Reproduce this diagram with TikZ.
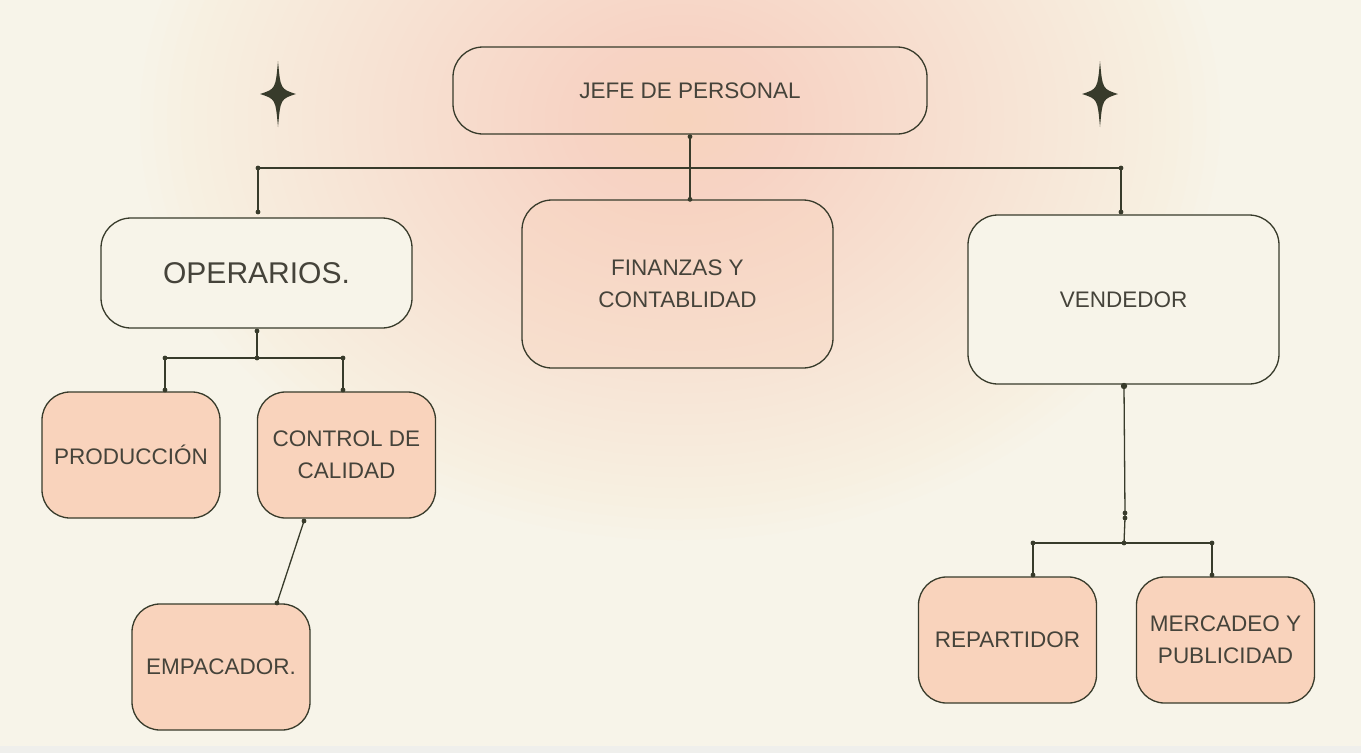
\documentclass[tikz,border=0pt]{standalone}
\usepackage{fontspec}
\setmainfont{Liberation Sans}
\definecolor{bg}{HTML}{F7F4E9}
\definecolor{glow}{HTML}{FAD3BD}
\definecolor{peach}{HTML}{F9D3BC}
\definecolor{ink}{HTML}{383B2B}
\definecolor{txt}{HTML}{45433A}
\definecolor{strip}{HTML}{EFEFEC}
\begin{document}
\begin{tikzpicture}[x=1pt,y=-1pt,
  box/.style={draw=ink, line width=1.3pt, rounded corners=30pt, inner sep=0pt, align=center,
    text=txt, font=\fontsize{22.5}{32}\selectfont},
  small/.style={box, minimum width=178pt, minimum height=126pt, rounded corners=28pt, fill=peach},
  conn/.style={draw=ink, line width=1.3pt},
  dot/.style={fill=ink}
]
\useasboundingbox (0,0) rectangle (1361,753);
\fill[bg] (0,0) rectangle (1361,753);
\begin{scope}
  \clip (0,0) rectangle (1361,753);
  \foreach \i in {0,...,39}{
    \pgfmathsetmacro{\rr}{1-\i/40}
    \fill[glow, opacity=0.026] (680,120) ellipse ({540*\rr} and {420*\rr});
  }
\end{scope}
\fill[strip] (0,746) rectangle (1361,753);

% stars
\foreach \cx/\cy in {278/94, 1100/94}{
  \begin{scope}[shift={(\cx,\cy)}]
    \fill[ink] (0,-33) .. controls (2.5,-5) .. (18,0) .. controls (2.5,5) .. (0,33)
      .. controls (-2.5,5) .. (-18,0) .. controls (-2.5,-5) .. cycle;
  \end{scope}
}

% nodes
\node[box, minimum width=474pt, minimum height=87pt] (jefe) at (690,90.5) {JEFE DE PERSONAL};
\node[box, minimum width=311pt, minimum height=110pt, fill=bg, font=\fontsize{30}{36}\selectfont] (oper) at (256.5,273) {OPERARIOS.};
\node[box, minimum width=311pt, minimum height=168pt, fill=peach, fill opacity=0.3, text opacity=1] (fin) at (677.5,284) {FINANZAS Y\\CONTABLIDAD};
\node[box, minimum width=311pt, minimum height=169pt, fill=bg] (vend) at (1123.5,299.5) {VENDEDOR};
\node[small] (prod) at (131,455) {PRODUCCIÓN};
\node[small] (ctrl) at (346.5,455) {CONTROL DE\\CALIDAD};
\node[small] (emp) at (221,667) {EMPACADOR.};
\node[small] (rep) at (1007.5,640) {REPARTIDOR};
\node[small] (merc) at (1225.5,640) {MERCADEO Y\\PUBLICIDAD};

% coordinates
\coordinate (jB) at ([yshift=-2pt]jefe.south);
\coordinate (fT) at (jefe.south |- fin.north);
\coordinate (barL) at (258,168);
\coordinate (barR) at (1121,168);
\coordinate (operT) at (258,212);
\coordinate (vendT) at (1121,212);
\coordinate (oB) at (257,331);
\coordinate (oJ) at (257,358);
\coordinate (oL) at (165,358);
\coordinate (oR) at (343,358);
\coordinate (prodT) at (165,390);
\coordinate (ctrlT) at (343,390);
\coordinate (cB) at (304,521);
\coordinate (eT) at (277,603);
\coordinate (vB) at (1124,386);
\coordinate (vM1) at (1125,513);
\coordinate (vM2) at (1125,518);
\coordinate (vJ) at (1124,543);
\coordinate (vL) at (1033,543);
\coordinate (vR) at (1212,543);
\coordinate (repT) at (1033,575);
\coordinate (mercT) at (1212,575);

% connectors
\draw[conn] (jB) -- (fT);
\draw[conn] (barL) -- (barR);
\draw[conn] (barL) -- (operT);
\draw[conn] (barR) -- (vendT);
\draw[conn] (oB) -- (oJ);
\draw[conn] (oL) -- (oR);
\draw[conn] (oL) -- (prodT);
\draw[conn] (oR) -- (ctrlT);
\draw[conn] (cB) -- (eT);
\draw[conn] (vB) -- (vM1) -- (vM2) -- (vJ);
\draw[conn] (vL) -- (vR);
\draw[conn] (vL) -- (repT);
\draw[conn] (vR) -- (mercT);

\foreach \p in {jB,fT,barL,barR,operT,vendT,oB,oJ,oL,oR,prodT,ctrlT,cB,eT,vM1,vM2,vJ,vL,vR,repT,mercT}
  \fill[dot] (\p) circle (2.4pt);
\fill[dot] (vB) circle (3.2pt);
\end{tikzpicture}
\end{document}
